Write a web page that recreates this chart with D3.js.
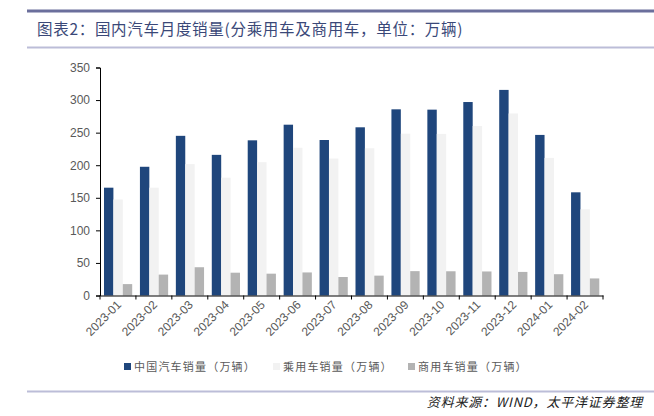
<!DOCTYPE html>
<html>
<head>
<meta charset="utf-8">
<script src="https://cdn.jsdelivr.net/npm/d3@7"></script>
<style>
  body { margin: 0; background: #fff; }
  svg { display: block; font-family: "Noto Sans CJK SC", sans-serif; }
</style>
</head>
<body>
<svg id="chart" width="654" height="416"></svg>
<script>
// data
let months = ["2023-01", "2023-02", "2023-03", "2023-04", "2023-05", "2023-06", "2023-07",
    "2023-08", "2023-09", "2023-10", "2023-11", "2023-12", "2024-01", "2024-02"];
let totalSales = [165.5, 197.6, 245.1, 215.9, 238.2, 262.2, 238.7, 258.2, 285.8, 285.3, 297.0, 315.6, 246.5, 158.4];
let passengerSales = [147.4, 165.5, 201.7, 180.9, 204.7, 226.8, 210.3, 226.0, 248.4, 248.1, 260.2, 279.4, 211.2, 132.3];
let commercialSales = [17.5, 32.1, 43.4, 35.0, 33.5, 35.4, 28.4, 30.5, 37.4, 37.2, 36.9, 36.2, 32.7, 26.2];
let seriesNames = ["中国汽车销量（万辆）", "乘用车销量（万辆）", "商用车销量（万辆）"];
let seriesColors = ["#1f467c", "#f2f2f2", "#b3b3b3"];
let yTicks = [0, 50, 100, 150, 200, 250, 300, 350];

let svg = d3.select("#chart");

// header / footer rules
svg.append("line").attr("x1", 27).attr("x2", 654).attr("y1", 11).attr("y2", 11)
    .attr("stroke", "#6b6f9c").attr("stroke-width", 3);
svg.append("line").attr("x1", 27).attr("x2", 654).attr("y1", 47.5).attr("y2", 47.5)
    .attr("stroke", "#bcbdd8").attr("stroke-width", 2);
svg.append("line").attr("x1", 27).attr("x2", 654).attr("y1", 391.5).attr("y2", 391.5)
    .attr("stroke", "#bcbdd8").attr("stroke-width", 2);

svg.append("text")
    .attr("x", 37).attr("y", 35)
    .attr("font-size", 15.5)
    .attr("fill", "#3a4878")
    .attr("letter-spacing", 0.7)
    .text("图表2：国内汽车月度销量(分乘用车及商用车，单位：万辆)");

svg.append("text")
    .attr("x", 643).attr("y", 407)
    .attr("text-anchor", "end")
    .attr("font-size", 13)
    .attr("font-style", "italic")
    .attr("fill", "#222")
    .attr("letter-spacing", 0.8)
    .text("资料来源：WIND，太平洋证券整理");

// scales
let x = d3.scaleBand().domain(months).range([100, 603]).paddingInner(0).paddingOuter(0);
let y = d3.scaleLinear().domain([0, 350]).range([295.5, 67.5]);

let barW = 9.4;
let offset = 4;

let rows = months.map((m, i) => ({ month: m, values: [totalSales[i], passengerSales[i], commercialSales[i]] }));

let groups = svg.append("g").selectAll("g")
    .data(rows).join("g")
    .attr("transform", d => `translate(${x(d.month) + offset},0)`);

groups.selectAll("rect")
    .data(d => d.values)
    .join("rect")
    .attr("x", (d, j) => j * barW)
    .attr("width", barW)
    .attr("y", d => y(d))
    .attr("height", d => y(0) - y(d))
    .attr("fill", (d, j) => seriesColors[j]);

// y axis
let yAxis = svg.append("g")
    .attr("transform", "translate(100,0)")
    .call(d3.axisLeft(y).tickValues(yTicks).tickSize(4).tickPadding(6));
yAxis.select(".domain").attr("stroke", "#000");
yAxis.selectAll(".tick line").attr("stroke", "#000");
yAxis.selectAll("text").attr("font-size", 12).attr("fill", "#595959")
    .attr("font-family", "Liberation Sans, Arial, sans-serif");

// x axis
let xAxis = svg.append("g")
    .attr("transform", `translate(0,${y(0)})`)
    .call(d3.axisBottom(x).tickSize(0).tickFormat(""));
xAxis.select(".domain").attr("stroke", "#000");

svg.append("g").selectAll("line")
    .data(months.concat(["end"]))
    .join("line")
    .attr("x1", (d, i) => i < months.length ? x(d) : x.range()[1])
    .attr("x2", (d, i) => i < months.length ? x(d) : x.range()[1])
    .attr("y1", y(0)).attr("y2", y(0) + 4)
    .attr("stroke", "#000");

svg.append("g").selectAll("text")
    .data(months)
    .join("text")
    .attr("transform", d => `translate(${x(d) + x.bandwidth() / 2 + 4},${y(0) + 10}) rotate(-45)`)
    .attr("text-anchor", "end")
    .attr("font-size", 12)
    .attr("fill", "#595959")
    .attr("font-family", "Liberation Sans, Arial, sans-serif")
    .text(d => d);

// legend
let legendX = [124, 273, 408];
let legend = svg.append("g").selectAll("g")
    .data(seriesNames).join("g")
    .attr("transform", (d, i) => `translate(${legendX[i]},367)`);
legend.append("rect")
    .attr("x", 0).attr("y", -4).attr("width", 7).attr("height", 7)
    .attr("fill", (d, i) => seriesColors[i]);
legend.append("text")
    .attr("x", 10).attr("y", 4)
    .attr("font-size", 11)
    .attr("fill", "#595959")
    .attr("letter-spacing", 1.2)
    .text(d => d);
</script>
</body>
</html>
